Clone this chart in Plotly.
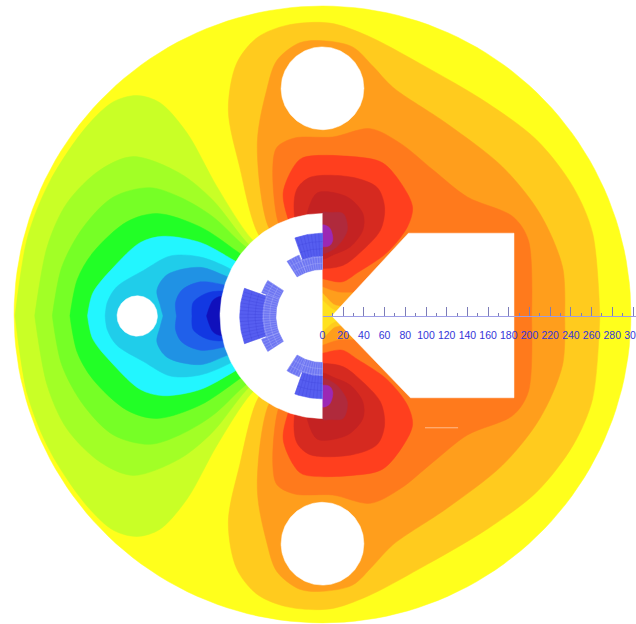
import numpy as np
import plotly.graph_objects as go

# All coordinates are millimetres. Contours are upper half outlines (symmetric about y=0).
tick_values = list(range(0, 301, 20))
tick_labels = [str(v) for v in tick_values]
minor_tick_values = list(range(10, 301, 20))

outer_radius = 298
outer_center_y = 1.5
rotor_radius = 99
hole_centers = [(0, 220), (0, -220), (-179, 0)]
hole_radii = [40, 40, 19.5]
pole_x = [9, 83, 185, 185, 85, 9]
pole_y = [0, 80, 80, -79, -79, 0]
mark_x = [99, 131]
mark_y = [-108, -108]

left_levels = [
    ("#C9FF26", [(-45,55),(-69,75),(-102,125),(-131,177),(-157,206),(-179,213),(-202,207),(-228,183),(-263,131),(-285,76),(-297,0)]),
    ("#A2FF26", [(-50,50),(-74,72),(-106,112),(-138,138),(-183,154),(-215,141),(-247,109),(-266,67),(-278,0)]),
    ("#76FF26", [(-50,48),(-77,69),(-106,96),(-138,115),(-167,124),(-202,115),(-231,86),(-252,47),(-261,0)]),
    ("#22FF26", [(-55,42),(-82,62),(-118,86),(-160,99),(-189,91),(-222,61),(-237,35),(-244,0)]),
    ("#22F6FF", [(-60,38),(-86,54),(-118,71),(-154,77),(-176,71),(-202,47),(-222,22),(-227,0)]),
    ("#20CDEA", [(-65,30),(-90,46),(-118,57),(-147,58),(-173,44),(-199,28),(-208,13),(-210,0)]),
    ("#2092E4", [(-65,28),(-92,38),(-118,47),(-150,40),(-160,25),(-157,11),(-154,0)]),
    ("#2060EA", [(-70,22),(-95,30),(-118,33),(-136,25),(-142,13),(-141,0)]),
    ("#1238E2", [(-70,18),(-97,24),(-112,22),(-125,13),(-126,0)]),
    ("#1010BC", [(-70,14),(-98,19),(-106,15),(-112,0)]),
]

right_levels = [
    ("#FFCB1E", [(-40,55),(-62,79),(-80,144),(-91,199),(-83,244),(-63,269),(-34,281),(7,283),(43,271),(94,244),(159,206),(207,170),(242,125),(261,80),(268,0)]),
    ("#FF9E1C", [(-35,60),(-53,88),(-63,167),(-54,218),(-44,247),(-22,264),(0,266),(29,260),(49,241),(68,221),(120,186),(174,144),(210,99),(232,47),(234,0)]),
    ("#FF7A1C", [(-30,65),(-43,91),(-48,144),(-44,163),(-27,172),(10,173),(46,181),(75,167),(107,141),(140,115),(184,96),(199,73),(202,0)]),
]

upper_lobes = [
    ("#FF3F1E", [(-20,60),(-33,93),(-38,119),(-28,144),(-19,153),(29,154),(58,148),(78,125),(87,105),(82,86),(62,61),(34,42),(19,33),(0,36),(-20,40)]),
    ("#D62A20", [(-15,60),(-27,96),(-25,122),(-12,134),(29,134),(53,124),(60,105),(56,83),(36,61),(20,49),(0,46),(-15,50)]),
    ("#C42222", [(-15,99),(-5,119),(24,115),(39,99),(39,83),(27,67),(10,59),(0,55),(-10,60)]),
    ("#B02A3C", [(-5,85),(0,100),(7,100),(20,99),(24,83),(14,67),(4,61),(0,60),(-5,65)]),
    ("#9C28B4", [(-4,80),(0,88),(7,85),(10,74),(7,68),(0,67),(-4,70)]),
]

axis_patches = [
    ("#FF9E1C", [(-5,31),(0,28),(15,23),(40,20),(40,0)]),
    ("#FFCB1E", [(-5,25),(0,22),(11,11),(20,8),(20,0)]),
    ("#FFE11E", [(-5,18),(0,15),(9,7),(14,4),(14,0)]),
]

# Coil blocks as (inner radius, outer radius, start angle, end angle), degrees.
coil_main = [(58, 80, 160.5, 199.5), (58, 80, 90, 109.5), (58, 80, 250.5, 270)]
coil_light = [(45, 58, 159, 201), (45, 58, 90, 111), (45, 58, 249, 270),
              (45, 63, 201, 213), (45, 63, 147, 159), (45, 63, 111, 123), (45, 63, 237, 249)]
coil_arcs_main = [65, 72]
coil_arcs_light = [51, 57]
coil_rays_step = 2.6


def mirrored(points):
    xs = [p[0] for p in points]
    ys = [p[1] for p in points]
    return xs + xs[::-1], ys + [-v for v in ys[::-1]]


def area(x, y, color, spline=True):
    return go.Scatter(x=x, y=y, mode="lines", fill="toself", fillcolor=color,
                      line=dict(color=color, width=0.5, shape="spline" if spline else "linear", smoothing=0.9),
                      hoverinfo="skip", showlegend=False)


def circle(cx, cy, r, color):
    t = np.linspace(0, 2 * np.pi, 181)
    return area((cx + r * np.cos(t)).tolist(), (cy + r * np.sin(t)).tolist(), color, False)


def sector(r0, r1, a0, a1):
    t = np.radians(np.linspace(a0, a1, 25))
    x = np.r_[r0 * np.cos(t), r1 * np.cos(t[::-1])]
    y = np.r_[r0 * np.sin(t), r1 * np.sin(t[::-1])]
    return np.r_[x, x[0]].tolist(), np.r_[y, y[0]].tolist()


def mesh(blocks, arcs, color, width):
    mx, my = [], []
    for r0, r1, a0, a1 in blocks:
        for deg in np.arange(a0, a1 + 0.1, coil_rays_step):
            c, s = np.cos(np.radians(deg)), np.sin(np.radians(deg))
            mx += [r0 * c, r1 * c, None]
            my += [r0 * s, r1 * s, None]
        for rr in arcs:
            if r0 < rr < r1:
                q = np.radians(np.linspace(a0, a1, 15))
                mx += (rr * np.cos(q)).tolist() + [None]
                my += (rr * np.sin(q)).tolist() + [None]
    return go.Scatter(x=mx, y=my, mode="lines", line=dict(color=color, width=width),
                      hoverinfo="skip", showlegend=False)


fig = go.Figure()
fig.add_trace(circle(0, outer_center_y, outer_radius, "#FFFF1C"))
for color, pts in left_levels + right_levels:
    x, y = mirrored(pts)
    fig.add_trace(area(x, y, color))
for color, pts in upper_lobes:
    x = [p[0] for p in pts]
    y = [p[1] for p in pts]
    fig.add_trace(area(x, y, color))
    fig.add_trace(area(x, [-v for v in y], color))
for color, pts in axis_patches:
    x, y = mirrored(pts)
    fig.add_trace(area(x, y, color))

fig.add_trace(go.Scatter(x=mark_x, y=mark_y, mode="lines", line=dict(color="rgba(255,205,170,0.8)", width=1),
                         hoverinfo="skip", showlegend=False))

for (cx, cy), r in zip(hole_centers, hole_radii):
    fig.add_trace(circle(cx, cy, r, "white"))
t = np.radians(np.linspace(90, 270, 121))
fig.add_trace(area((rotor_radius * np.cos(t)).tolist(), (rotor_radius * np.sin(t)).tolist(), "white", False))
fig.add_trace(area(pole_x, pole_y, "white", False))

for block in coil_light:
    x, y = sector(*block)
    fig.add_trace(area(x, y, "#6E76F2", False))
for block in coil_main:
    x, y = sector(*block)
    fig.add_trace(area(x, y, "#565EF0", False))
fig.add_trace(mesh(coil_light, coil_arcs_light, "rgba(170,175,250,0.8)", 0.5))
fig.add_trace(mesh(coil_main, coil_arcs_main, "rgba(60,62,215,0.55)", 0.5))

W, H = 636, 624
zero_px, mid_px, scale = 322.5, 316, 1.035
fig.add_trace(go.Scatter(x=[0, 300], y=[0, 0], xaxis="x2", mode="lines", line=dict(width=0),
                         hoverinfo="skip", showlegend=False))
fig.update_layout(
    width=W, height=H, margin=dict(l=0, r=0, t=0, b=0, pad=0, autoexpand=False), paper_bgcolor="white",
    plot_bgcolor="rgba(0,0,0,0)", showlegend=False,
    xaxis=dict(domain=[0, 1], range=[-zero_px / scale, (W - zero_px) / scale], visible=False, fixedrange=True, automargin=False),
    yaxis=dict(range=[-(H - mid_px) / scale, mid_px / scale], visible=False, fixedrange=True, automargin=False),
    xaxis2=dict(
        domain=[zero_px / W, 1], range=[0, (W - zero_px) / scale], anchor="free", automargin=False,
        position=1 - mid_px / H, showline=True, linecolor="#9C9CE6", linewidth=1, showgrid=False, zeroline=False,
        ticks="inside", ticklen=9, tickwidth=1, tickcolor="#7C7CB8",
        tickvals=tick_values, ticktext=tick_labels, ticklabelstandoff=9, tickangle=0, ticklabeloverflow="allow",
        tickfont=dict(family="Liberation Sans", size=10.5, color="#3434D8"),
        minor=dict(tickvals=minor_tick_values, ticks="inside", ticklen=3, tickwidth=1, tickcolor="#7C7CB8"),
        fixedrange=True,
    ),
)
fig.write_html("out.html", config=dict(displayModeBar=False),
               post_script="document.body.style.margin='0';document.body.style.overflow='hidden';")
